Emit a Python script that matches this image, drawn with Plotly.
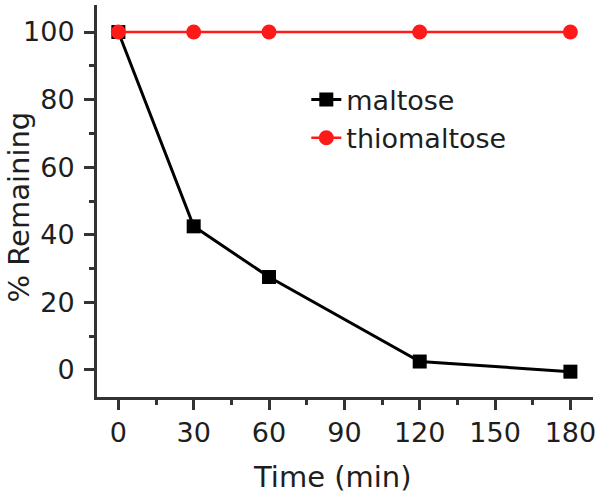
import plotly.graph_objects as go

time_min = [0, 30, 60, 120, 180]
maltose = [100, 42.5, 27.5, 2.5, -0.5]
thiomaltose = [100, 100, 100, 100, 100]
x_ticks = [0, 30, 60, 90, 120, 150, 180]
y_ticks = [0, 20, 40, 60, 80, 100]
x_title = "Time (min)"
y_title = "% Remaining"

FONT = "DejaVu Sans, Liberation Sans, Arial, sans-serif"
TXT = "#1e1e1e"

fig = go.Figure()
fig.add_trace(go.Scatter(
    x=time_min, y=maltose, name="maltose", mode="lines+markers",
    line=dict(color="black", width=3),
    marker=dict(symbol="square", size=14, color="black"),
))
fig.add_trace(go.Scatter(
    x=time_min, y=thiomaltose, name="thiomaltose", mode="lines+markers",
    line=dict(color="#ff1a1a", width=2.5),
    marker=dict(symbol="circle", size=15, color="#ff1a1a"),
))

axis_common = dict(
    showline=True, linecolor="#333333", linewidth=3,
    ticks="outside", ticklen=10, tickwidth=2.5, tickcolor="#333333",
    showgrid=False, zeroline=False, mirror=False, automargin=False,
    tickfont=dict(family=FONT, size=27, color=TXT),
)

fig.update_xaxes(
    range=[-8.5, 189], tickvals=x_ticks, ticktext=[str(v) for v in x_ticks],
    minor=dict(ticks="outside", dtick=15, tick0=0, ticklen=5, tickwidth=2.5, tickcolor="#333333"),
    **axis_common,
)
fig.update_yaxes(
    range=[-8, 108], tickvals=y_ticks, ticktext=[str(v) for v in y_ticks],
    ticklabelstandoff=4,
    minor=dict(ticks="outside", dtick=10, tick0=0, ticklen=5, tickwidth=2.5, tickcolor="#333333"),
    **axis_common,
)

fig.add_annotation(
    text=x_title, xref="paper", yref="paper", x=0.474, y=-0.204,
    xanchor="center", yanchor="middle", showarrow=False,
    font=dict(family=FONT, size=29, color=TXT),
)
fig.add_annotation(
    text=y_title, xref="paper", yref="paper", x=-0.158, y=0.485,
    xanchor="center", yanchor="middle", showarrow=False, textangle=-90,
    font=dict(family=FONT, size=29, color=TXT),
)

fig.update_layout(
    width=600, height=499,
    margin=dict(l=97, r=7, t=5, b=102),
    paper_bgcolor="white", plot_bgcolor="white",
    legend=dict(
        x=0.422, y=0.82, xanchor="left", yanchor="top",
        font=dict(family=FONT, size=27, color=TXT),
        bgcolor="rgba(0,0,0,0)", itemwidth=30, tracegroupgap=0,
    ),
    showlegend=True,
)

fig.write_html("out.html", config={"displayModeBar": False},
               post_script="document.body.style.margin='0';")
